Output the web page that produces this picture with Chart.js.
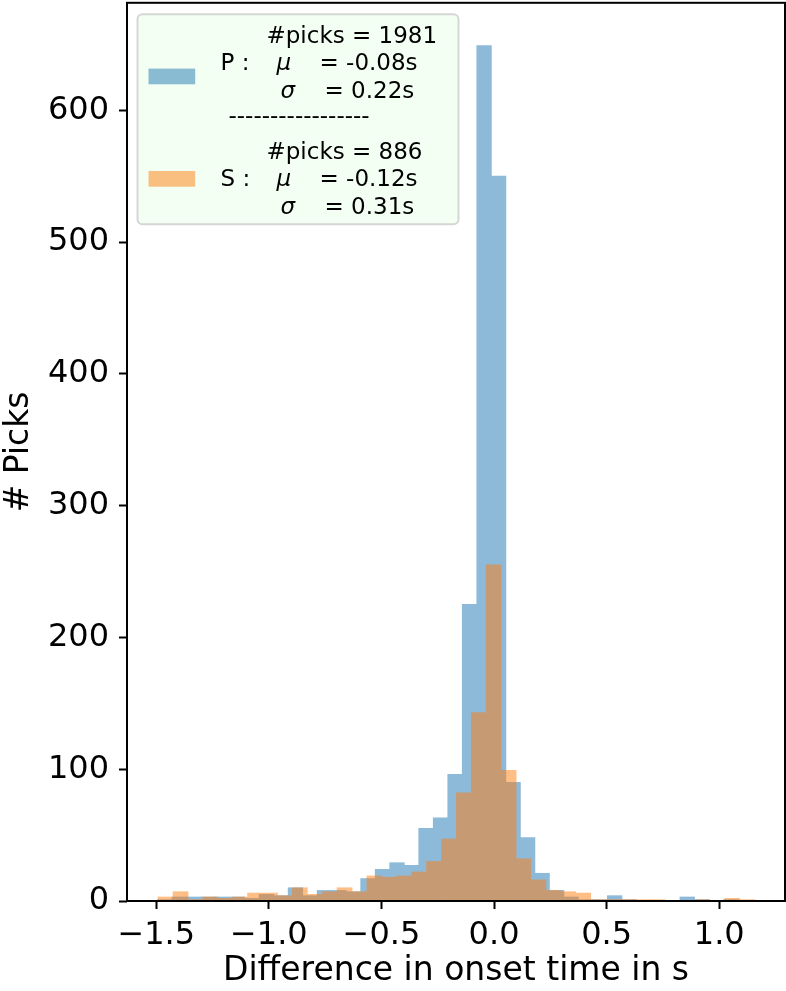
<!DOCTYPE html>
<html>
<head>
<meta charset="utf-8">
<script src="https://cdn.jsdelivr.net/npm/chart.js@4.4.1/dist/chart.umd.min.js"></script>
<style>
  html, body { margin: 0; padding: 0; background: #ffffff; }
  #wrap { width: 786px; height: 991px; position: relative; }
</style>
</head>
<body>
<div id="wrap"><canvas id="c" width="786" height="991"></canvas></div>
<script>
// Histogram bins (seconds): first edge and bin width, 40 bins per phase
const pBinStart = -1.4942;
const pBinWidth = 0.06444;
const sBinStart = -1.4916;
const sBinWidth = 0.06622;

// Number of picks per bin
const pCounts = [1, 3, 3, 3, 3, 3, 2, 5, 4, 10, 4, 8, 8, 7, 17, 24, 29, 27, 55, 63,
                 96, 225, 649, 550, 90, 48, 21, 8, 3, 1, 1, 4, 1, 0, 0, 0, 3, 1, 0, 1];
const sCounts = [3, 7, 1, 3, 2, 3, 6, 6, 4, 10, 5, 7, 10, 7, 19, 18, 19, 22, 30, 47,
                 82, 143, 255, 99, 32, 16, 8, 7, 6, 1, 1, 1, 1, 1, 0, 0, 1, 0, 2, 1];

// Axis ticks
const xTicks = [-1.5, -1.0, -0.5, 0.0, 0.5, 1.0];
const yTicks = [0, 100, 200, 300, 400, 500, 600];

// Legend statistics
const phaseNames = ['P', 'S'];
const phasePicks = [1981, 886];
const phaseMu = ['-0.08s', '-0.12s'];
const phaseSigma = ['0.22s', '0.31s'];

const xMin = -1.63, xMax = 1.292;
const yMax = 681.5;

const FONT = 'DejaVu Sans';
const HIST_ALPHA = 0.5;
const blueSolid = 'rgb(31,119,180)';
const orangeSolid = 'rgb(255,127,14)';
const blueFill = 'rgba(31,119,180,0.5)';
const orangeFill = 'rgba(255,127,14,0.5)';

Chart.defaults.font.family = FONT;
Chart.defaults.color = '#000';

const toPoints = (counts, start, width) =>
  counts.map((c, i) => ({ x: start + width * (i + 0.5), y: c }));

// Each histogram is painted opaque on its own layer, then blended at HIST_ALPHA,
// so neighbouring bars join without hairline seams.
const histLayer = {
  id: 'histLayer',
  beforeDatasetDraw(chart, args) {
    if (!this.canvas) this.canvas = document.createElement('canvas');
    this.canvas.width = chart.width;
    this.canvas.height = chart.height;
    const lctx = this.canvas.getContext('2d');
    lctx.clearRect(0, 0, chart.width, chart.height);
    args.meta.controller._ctx = lctx;
  },
  afterDatasetDraw(chart, args) {
    args.meta.controller._ctx = chart.ctx;
    const ctx = chart.ctx;
    const a = chart.chartArea;
    ctx.save();
    ctx.beginPath();
    ctx.rect(a.left, a.top, a.right - a.left, a.bottom - a.top);
    ctx.clip();
    ctx.globalAlpha = HIST_ALPHA;
    ctx.drawImage(this.canvas, 0, 0);
    ctx.restore();
  }
};

// Frame around the plotting area (all four spines)
const framePlugin = {
  id: 'frame',
  afterDatasetsDraw(chart) {
    const { ctx, chartArea: a } = chart;
    ctx.save();
    ctx.strokeStyle = '#000';
    ctx.lineWidth = 2;
    ctx.strokeRect(a.left, a.top, a.right - a.left, a.bottom - a.top);
    ctx.restore();
  }
};

// Legend with per-phase statistics, anchored to the upper-left corner of the axes
const statsLegend = {
  id: 'statsLegend',
  afterDraw(chart) {
    const { ctx, chartArea: a } = chart;
    const bx = a.left + 10.5, by = a.top + 11.5, bw = 321, bh = 210;
    ctx.save();
    ctx.beginPath();
    ctx.roundRect(bx, by, bw, bh, 5);
    ctx.fillStyle = 'rgba(240,255,240,0.8)';
    ctx.fill();
    ctx.strokeStyle = 'rgba(204,204,204,0.8)';
    ctx.lineWidth = 2;
    ctx.stroke();

    const regular = '23px "' + FONT + '"';
    const italic = 'italic 23px "' + FONT + '"';
    const fills = [blueFill, orangeFill];
    const blockTop = [0, 116];
    const handleTop = [54.3, 156.7];
    ctx.textBaseline = 'alphabetic';
    ctx.textAlign = 'left';
    for (let k = 0; k < 2; k++) {
      const t = by + blockTop[k];
      ctx.fillStyle = fills[k];
      ctx.fillRect(bx + 11, by + handleTop[k], 46.7, 15.7);
      ctx.fillStyle = '#000';
      ctx.font = regular;
      ctx.fillText('#picks = ' + phasePicks[k], bx + 129, t + 28.3);
      ctx.fillText(phaseNames[k] + ' :', bx + 83, t + 56);
      ctx.fillText('= ' + phaseMu[k], bx + 182, t + 56);
      ctx.fillText('= ' + phaseSigma[k], bx + 187, t + 83.3);
      ctx.font = italic;
      ctx.fillText('\u03bc', bx + 139, t + 56);
      ctx.fillText('\u03c3', bx + 143, t + 83.3);
    }
    ctx.font = regular;
    ctx.fillText('-----------------', bx + 91, by + 109);
    ctx.restore();
  }
};

const fmtX = v => (v < 0 ? '\u2212' : '') + Math.abs(v).toFixed(1);

// Keep the plotting area fixed: no extra room reserved for overhanging tick labels
const noOverhang = s => {
  s.paddingTop = 0; s.paddingBottom = 0; s.paddingLeft = 0; s.paddingRight = 0;
};

new Chart(document.getElementById('c'), {
  type: 'bar',
  data: {
    datasets: [
      {
        label: 'P',
        data: toPoints(pCounts, pBinStart, pBinWidth),
        xAxisID: 'x',
        backgroundColor: blueSolid,
        borderWidth: 0,
        inflateAmount: 0.4,
        barPercentage: 1,
        categoryPercentage: 1,
        grouped: false,
        order: 1
      },
      {
        label: 'S',
        data: toPoints(sCounts, sBinStart, sBinWidth),
        xAxisID: 'xS',
        backgroundColor: orangeSolid,
        borderWidth: 0,
        inflateAmount: 0.4,
        barPercentage: 1,
        categoryPercentage: 1,
        grouped: false,
        order: 0
      }
    ]
  },
  options: {
    responsive: false,
    animation: false,
    devicePixelRatio: 1,
    layout: { padding: { top: 2.8, right: 1, left: 0, bottom: 0 } },
    plugins: {
      legend: { display: false },
      tooltip: { enabled: false }
    },
    scales: {
      x: {
        type: 'linear',
        position: 'bottom',
        min: xMin,
        max: xMax,
        offset: false,
        afterBuildTicks: s => { s.ticks = xTicks.map(v => ({ value: v })); },
        afterFit: s => { s.height = 90; noOverhang(s); },
        border: { display: false },
        grid: {
          drawOnChartArea: false, drawTicks: true, tickLength: 8,
          tickWidth: 2, tickColor: '#000', offset: false
        },
        ticks: {
          color: '#000', font: { family: FONT, size: 32 }, padding: 7,
          maxRotation: 0, autoSkip: false, callback: v => fmtX(v)
        },
        title: {
          display: true, text: 'Difference in onset time in s', color: '#000',
          font: { family: FONT, size: 33 }, padding: { top: 0, bottom: 0 }
        }
      },
      xS: {
        type: 'linear',
        position: 'bottom',
        min: xMin,
        max: xMax,
        offset: false,
        display: false,
        afterBuildTicks: s => { s.ticks = xTicks.map(v => ({ value: v })); }
      },
      y: {
        type: 'linear',
        position: 'left',
        min: 0,
        max: yMax,
        afterBuildTicks: s => { s.ticks = yTicks.map(v => ({ value: v })); },
        afterFit: s => { s.width = 127; noOverhang(s); },
        border: { display: false },
        grid: {
          drawOnChartArea: false, drawTicks: true, tickLength: 8,
          tickWidth: 2, tickColor: '#000'
        },
        ticks: {
          color: '#000', font: { family: FONT, size: 32 }, padding: 10,
          callback: v => String(v)
        },
        title: {
          display: true, text: '# Picks', color: '#000',
          font: { family: FONT, size: 33 }, padding: { top: 0, bottom: 0 }
        }
      }
    }
  },
  plugins: [histLayer, framePlugin, statsLegend]
});
</script>
</body>
</html>
